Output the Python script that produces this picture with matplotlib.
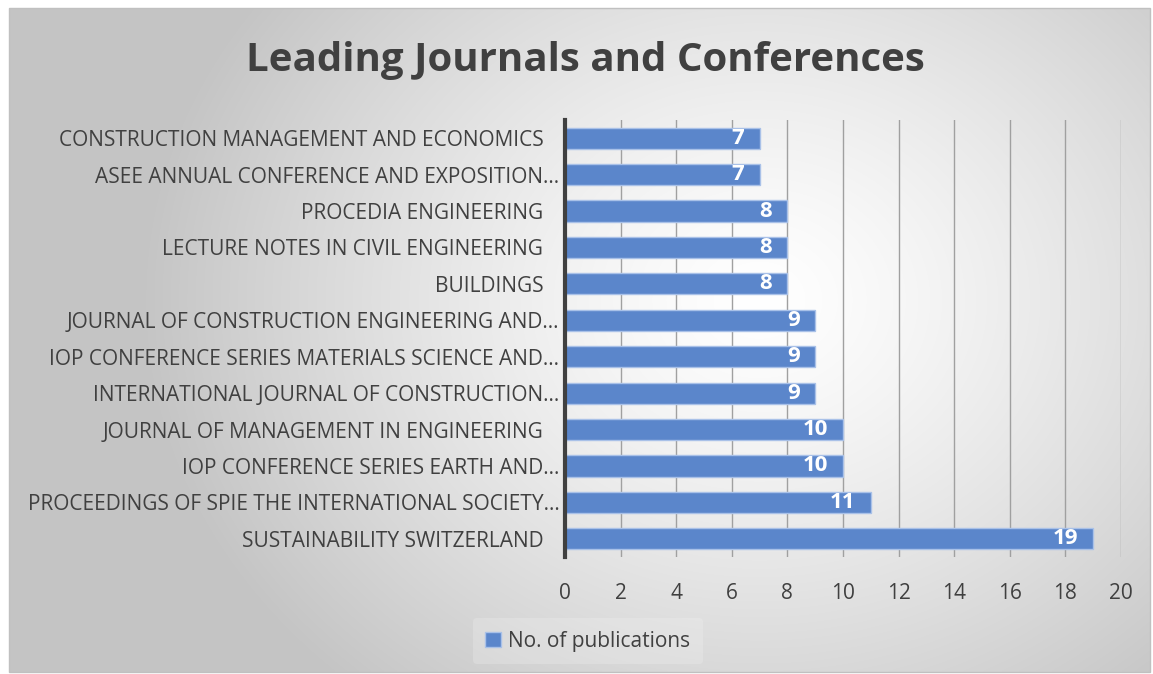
import numpy as np
import matplotlib
matplotlib.use("Agg")
import matplotlib.pyplot as plt
from matplotlib.patches import Rectangle

categories = [
    "CONSTRUCTION MANAGEMENT AND ECONOMICS   ",
    "ASEE ANNUAL CONFERENCE AND EXPOSITION…",
    "PROCEDIA ENGINEERING   ",
    "LECTURE NOTES IN CIVIL ENGINEERING   ",
    "BUILDINGS   ",
    "JOURNAL OF CONSTRUCTION ENGINEERING AND…",
    "IOP CONFERENCE SERIES MATERIALS SCIENCE AND…",
    "INTERNATIONAL JOURNAL OF CONSTRUCTION…",
    "JOURNAL OF MANAGEMENT IN ENGINEERING   ",
    "IOP CONFERENCE SERIES EARTH AND…",
    "PROCEEDINGS OF SPIE THE INTERNATIONAL SOCIETY…",
    "SUSTAINABILITY SWITZERLAND   ",
]
values = [7, 7, 8, 8, 8, 9, 9, 9, 10, 10, 11, 19]
series_name = "No. of publications"
title = "Leading Journals and Conferences"
xticks = [0, 2, 4, 6, 8, 10, 12, 14, 16, 18, 20]

W, H = 1153, 674
plt.rcParams['font.family'] = ['Open Sans', 'DejaVu Sans']
fig = plt.figure(figsize=(W / 100, H / 100), dpi=100)
fig.patch.set_facecolor('white')

# background gradient panel
bg = fig.add_axes([0, 0, 1, 1], zorder=-10)
bg.set_xlim(0, W); bg.set_ylim(H, 0); bg.axis('off')
x0, y0, x1, y1 = 9, 8, 1150, 672
xx, yy = np.meshgrid(np.linspace(x0, x1, 400), np.linspace(y0, y1, 240))
cx, cy = 760, 300
r = np.sqrt(((xx - cx) / 620) ** 2 + ((yy - cy) / 520) ** 2)
r = np.clip(r, 0, 1)
lum = 1.0 - 0.23 * r ** 1.3
img = np.dstack([lum, lum, lum])
bg.imshow(img, extent=[x0, x1, y1, y0], aspect='auto', interpolation='bilinear')
bg.add_patch(Rectangle((x0, y0), x1 - x0, y1 - y0, fill=False, edgecolor='#c0c0c0', lw=1))

ax = fig.add_axes([565 / W, 1 - 557 / H, (1121 - 565) / W, (557 - 120) / H])
ax.set_facecolor('none')
ypos = np.arange(len(categories))
bars = ax.barh(ypos, values, height=0.58, color='#5b86cb', edgecolor='#a9c1e8', linewidth=1, zorder=3)
ax.set_ylim(len(categories) - 0.5, -0.5)
ax.set_xlim(0, 20)
ax.set_xticks(xticks)
ax.set_yticks(ypos)
ax.set_yticklabels(categories)
ax.tick_params(axis='y', length=0, pad=4, labelsize=15, labelcolor='#404040')
ax.tick_params(axis='x', length=0, pad=19, labelsize=15, labelcolor='#404040')
ax.grid(axis='x', color='#a0a0a0', lw=1, zorder=1)
for s in ['top', 'right', 'bottom']:
    ax.spines[s].set_visible(False)
ax.spines['left'].set_color('#404040')
ax.spines['left'].set_linewidth(3)
ax.spines['left'].set_zorder(4)

for b, v in zip(bars, values):
    ax.text(v - 0.55, b.get_y() + b.get_height() / 2, str(v), ha='right', va='center',
            color='white', fontsize=16, fontweight='bold', zorder=5)

fig.text(585 / W, 1 - 61 / H, title, ha='center', va='center', fontsize=29,
         fontweight='bold', color='#404040')

leg = fig.legend([bars[0]], [series_name], loc='center', bbox_to_anchor=(588 / W, 1 - 641 / H),
                 frameon=True, fontsize=15, handlelength=0.75, handleheight=0.75, handletextpad=0.35,
                 borderpad=0.6)
leg.get_frame().set_facecolor('#f4f4f4')
leg.get_frame().set_edgecolor('none')
leg.get_frame().set_alpha(0.25)
for t in leg.get_texts():
    t.set_color('#404040')

fig.savefig('out.png', dpi=100)
